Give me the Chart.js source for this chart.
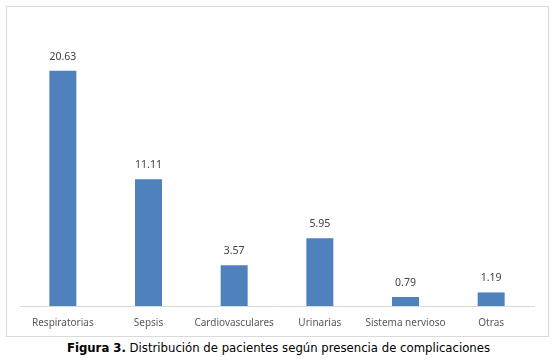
<!DOCTYPE html>
<html>
<head>
<meta charset="utf-8">
<script src="https://cdn.jsdelivr.net/npm/chart.js@4/dist/chart.umd.min.js"></script>
<style>
html,body{margin:0;padding:0;background:#fff;width:557px;height:364px;overflow:hidden;}
#box{position:absolute;left:6px;top:6px;width:541px;height:329px;border:1px solid #d9d9d9;}
#c{display:block;}
#cap{position:absolute;left:0;width:557px;top:341px;text-align:center;font-family:"DejaVu Sans";font-size:11.7px;color:#000;white-space:nowrap;}
</style>
</head>
<body>
<div id="box"><canvas id="c" width="541" height="329"></canvas></div>
<div id="cap"><b>Figura 3.</b> Distribución de pacientes según presencia de complicaciones</div>
<script>
const categories = ["Respiratorias","Sepsis","Cardiovasculares","Urinarias","Sistema nervioso","Otras"];
const values = [20.63, 11.11, 3.57, 5.95, 0.79, 1.19];
const labelText = ["20.63","11.11","3.57","5.95","0.79","1.19"];

const valueLabels = {
  id:'valueLabels',
  afterDatasetsDraw(chart){
    const ctx = chart.ctx;
    const meta = chart.getDatasetMeta(0);
    ctx.save();
    ctx.font = '10.5px "Noto Sans"';
    ctx.fillStyle = '#404040';
    ctx.textAlign = 'center';
    ctx.textBaseline = 'middle';
    meta.data.forEach((el,i)=>{
      ctx.fillText(labelText[i], el.x, el.y - 14);
    });
    ctx.restore();
  }
};

new Chart(document.getElementById('c'), {
  type:'bar',
  data:{labels:categories, datasets:[{data:values, backgroundColor:'#4f81bd', barPercentage:1, categoryPercentage:0.315}]},
  options:{
    responsive:false, animation:false,
    layout:{padding:{left:13,right:14,top:14,bottom:4}},
    plugins:{legend:{display:false}, tooltip:{enabled:false}},
    scales:{
      y:{display:false, min:0, max:25},
      x:{grid:{display:false}, border:{display:true,color:'#d9d9d9'},
         ticks:{color:'#595959', font:{family:'Noto Sans', size:10}, padding:3, maxRotation:0, autoSkip:false}}
    }
  },
  plugins:[valueLabels]
});
</script>
</body>
</html>
